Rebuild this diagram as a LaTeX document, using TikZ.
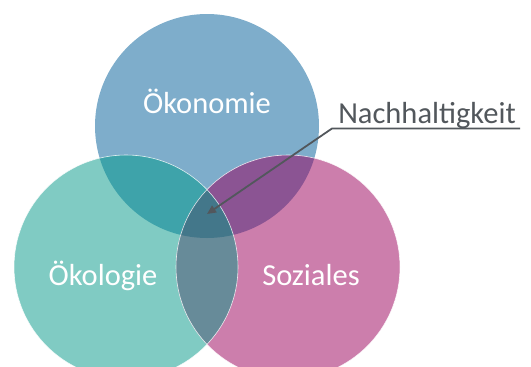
\documentclass[tikz,border=0pt]{standalone}
\usepackage{fontspec}
\setmainfont{Carlito}
\usetikzlibrary{arrows.meta}
\definecolor{blau}{HTML}{7EADCB}
\definecolor{tuerkis}{HTML}{80CBC3}
\definecolor{rosa}{HTML}{CC7EAC}
\definecolor{petrol}{HTML}{3EA3AA}
\definecolor{violett}{HTML}{8B5493}
\definecolor{graublau}{HTML}{678B99}
\definecolor{kern}{HTML}{43778A}
\definecolor{dunkelgrau}{HTML}{52575C}
\tikzset{
  kreistext/.style={anchor=base, text=white, font=\fontsize{30.5}{36}\selectfont},
  rand/.style={draw=white, line width=0.6pt, opacity=0.8},
  hinweis/.style={draw=dunkelgrau, line width=1.8pt, -{Triangle[length=9pt, width=8pt]}}
}
\begin{document}
\begin{tikzpicture}[x=1pt, y=-1pt]
\useasboundingbox (0,0) rectangle (531,367);
\clip (0,0) rectangle (531,367);
\def\radius{112}
\coordinate (oekonomie) at (207,126);
\coordinate (oekologie) at (126,267);
\coordinate (soziales) at (288,267);
\coordinate (mitte) at (207,214);
% Kreise
\fill[blau] (oekonomie) circle (\radius);
\fill[tuerkis] (oekologie) circle (\radius);
\fill[rosa] (soziales) circle (\radius);
% Schnittflaechen
\begin{scope}
\clip (oekonomie) circle (\radius);
\fill[petrol] (oekologie) circle (\radius);
\fill[violett] (soziales) circle (\radius);
\end{scope}
\begin{scope}
\clip (oekologie) circle (\radius);
\fill[graublau] (soziales) circle (\radius);
\clip (oekonomie) circle (\radius);
\fill[kern] (soziales) circle (\radius);
\end{scope}
\draw[rand] (oekologie) circle (\radius);
\draw[rand] (soziales) circle (\radius);
%Text
\node[kreistext] (toekonomie) at (207,113) {Ökonomie};
\node[kreistext] (toekologie) at (103,285) {Ökologie};
\node[kreistext] (tsoziales) at (311,285) {Soziales};
\node[anchor=base, text=dunkelgrau, font=\fontsize{30.5}{36}\selectfont] (nachhaltigkeit) at (427,123) {Nachhaltigkeit};
\coordinate (linieende) at (520,128.5);
\coordinate (knick) at (332,128.5);
\draw[hinweis] (linieende) -- (knick) -- (mitte);
\end{tikzpicture}
\end{document}
